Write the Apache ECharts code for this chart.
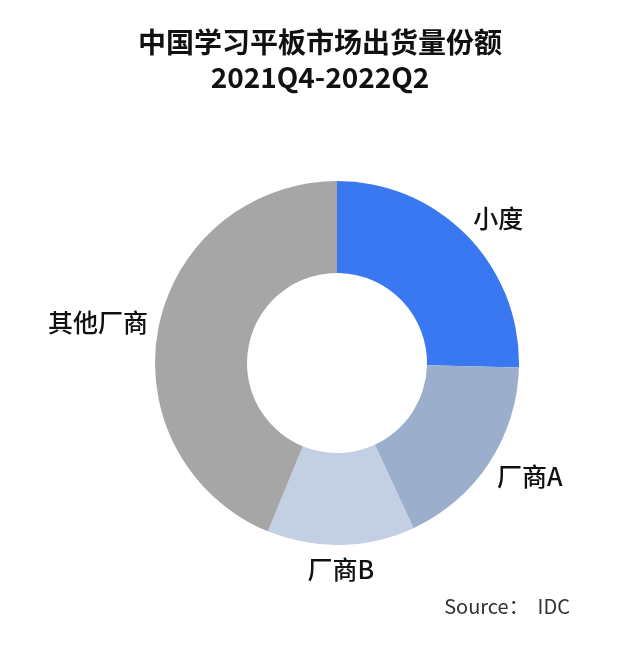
<!DOCTYPE html>
<html>
<head>
<meta charset="utf-8">
<style>
  html, body { margin: 0; padding: 0; background: #fff; }
  #chart { width: 640px; height: 647px; }
</style>
<script src="https://cdn.jsdelivr.net/npm/echarts@6/dist/echarts.min.js"></script>
</head>
<body>
<div id="chart"></div>
<script>
// 中国学习平板市场出货量份额 2021Q4-2022Q2 (IDC)
var vendors = ['小度', '厂商A', '厂商B', '其他厂商']
var shares = [25.4, 17.7, 13.1, 43.8]
var sliceColors = ['#3a78f1', '#9bafcd', '#c3cfe2', '#a6a6a6']
// small nudges so the labels sit where the original put them
var labelDx = [-12, -13, -34, 14]

var font = '"Noto Sans CJK SC", "Noto Sans", sans-serif'

var chart = echarts.init(document.getElementById('chart'))

var option = {
    backgroundColor: '#fff',
    animation: false,
    color: sliceColors,
    title: [
        {
            text: '中国学习平板市场出货量份额\n2021Q4-2022Q2',
            left: 320,
            top: 25,
            padding: 0,
            textAlign: 'center',
            textStyle: {
                fontFamily: font,
                fontSize: 28,
                fontWeight: 'bold',
                lineHeight: 35,
                color: '#111'
            }
        },
        {
            text: 'Source：  IDC',
            right: 70,
            top: 596,
            padding: 0,
            textStyle: {
                fontFamily: font,
                fontSize: 20,
                fontWeight: 'normal',
                color: '#333'
            }
        }
    ],
    series: [
        {
            type: 'pie',
            center: [337, 363],
            radius: [90, 182],
            startAngle: 90,
            clockwise: true,
            avoidLabelOverlap: false,
            silent: true,
            label: {
                show: true,
                position: 'outside',
                formatter: '{b}',
                fontFamily: font,
                fontSize: 25,
                fontWeight: 500,
                color: '#111',
                distanceToLabelLine: 0
            },
            labelLine: {
                show: false,
                length: 25,
                length2: 0
            },
            labelLayout: function (p) {
                return { dx: labelDx[p.dataIndex] }
            },
            data: vendors.map(function (name, i) {
                return { name: name, value: shares[i] }
            })
        }
    ]
}

chart.setOption(option)
</script>
</body>
</html>
